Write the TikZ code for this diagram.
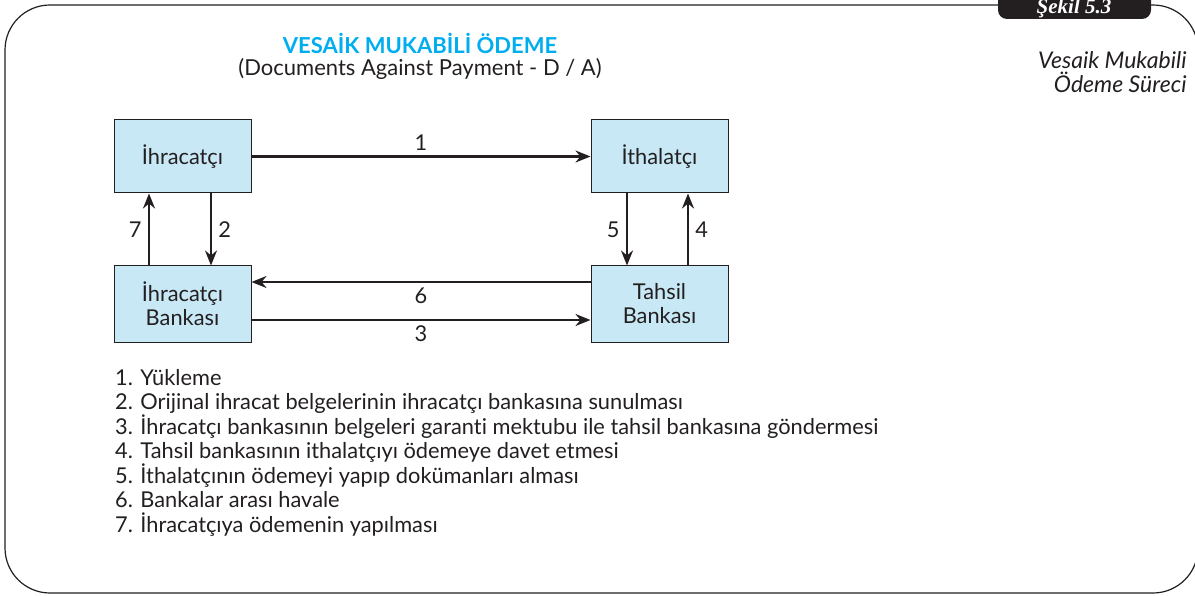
\documentclass[tikz,border=0pt]{standalone}
\usepackage{fontspec}
\setmainfont{Lato}[Ligatures=NoCommon]
\newfontfamily\sekilfont{Liberation Serif}
\usetikzlibrary{arrows.meta}
\definecolor{kutumavi}{RGB}{200,232,246}
\definecolor{baslikmavi}{RGB}{0,174,239}
\definecolor{metin}{RGB}{35,31,32}
\begin{document}
\begin{tikzpicture}[x=1pt,y=-1pt,
    kutu/.style={draw=metin,fill=kutumavi,line width=1pt,minimum width=137pt,align=center,text=metin,font=\fontsize{21.8}{24}\selectfont},
    ok/.style={-{Stealth[length=15pt,width=12pt]},line width=2.2pt,draw=metin},
    etiket/.style={text=metin,font=\fontsize{21.8}{24}\selectfont}]
    \useasboundingbox (0,0) rectangle (1195,596);
    \draw[metin,line width=1.2pt,rounded corners=45pt] (5,5) rectangle (1198,593);
    \fill[metin,rounded corners=9pt] (998,-20) rectangle (1151,19);
    \node[anchor=base,text=white,font=\sekilfont\fontsize{21}{24}\selectfont\bfseries\itshape] (sekil) at (1074,14) {Şekil 5.3};
    \node[text=baslikmavi,font=\fontsize{22}{24}\selectfont\bfseries] (baslik) at (420,43) {VESAİK MUKABİLİ ÖDEME};
    \node[text=metin,font=\fontsize{22}{24}\selectfont] (altbaslik) at (420,69) {(Documents Against Payment - D / A)};
    \node[anchor=north east,align=right,text=metin,font=\fontsize{23}{24.5}\selectfont\itshape] (sekiladi) at (1190,48) {Vesaik Mukabili\\Ödeme Süreci};
    \node[kutu,minimum height=73pt] (ihr) at (182.5,156.5) {İhracatçı};
    \node[kutu,minimum height=76pt] (ihrb) at (182.5,304) {İhracatçı\\Bankası};
    \node[kutu,minimum height=73pt] (ith) at (659.5,156.5) {İthalatçı};
    \node[kutu,minimum height=76pt] (tah) at (659.5,304) {Tahsil\\Bankası};
    \draw[ok] (ihr) -- node[etiket,above=2pt] {1} (ith);
    \draw[ok] ([xshift=28.5pt]ihr.south) -- node[etiket,right=3pt] {2} ([xshift=28.5pt]ihrb.north);
    \draw[ok] ([yshift=-16pt]ihrb.east) -- node[etiket,below=1pt] {3} ([yshift=-16pt]tah.west);
    \draw[ok] ([xshift=28.5pt]tah.north) -- node[etiket,right=3pt] {4} ([xshift=28.5pt]ith.south);
    \draw[ok] ([xshift=-32.5pt]ith.south) -- node[etiket,left=3pt] {5} ([xshift=-32.5pt]tah.north);
    \draw[ok] ([yshift=22pt]tah.west) -- node[etiket,below=1pt] {6} ([yshift=22pt]ihrb.east);
    \draw[ok] ([xshift=-33.5pt]ihrb.north) -- node[etiket,left=3pt] {7} ([xshift=-33.5pt]ihr.south);
    \node[anchor=north west,align=left,inner sep=0pt,text=metin,font=\fontsize{21.8}{24.5}\selectfont] (liste) at (115,369) {1. Yükleme\\
        2. Orijinal ihracat belgelerinin ihracatçı bankasına sunulması\\
        3. İhracatçı bankasının belgeleri garanti mektubu ile tahsil bankasına göndermesi\\
        4. Tahsil bankasının ithalatçıyı ödemeye davet etmesi\\
        5. İthalatçının ödemeyi yapıp dokümanları alması\\
        6. Bankalar arası havale\\
        7. İhracatçıya ödemenin yapılması};
\end{tikzpicture}
\end{document}
